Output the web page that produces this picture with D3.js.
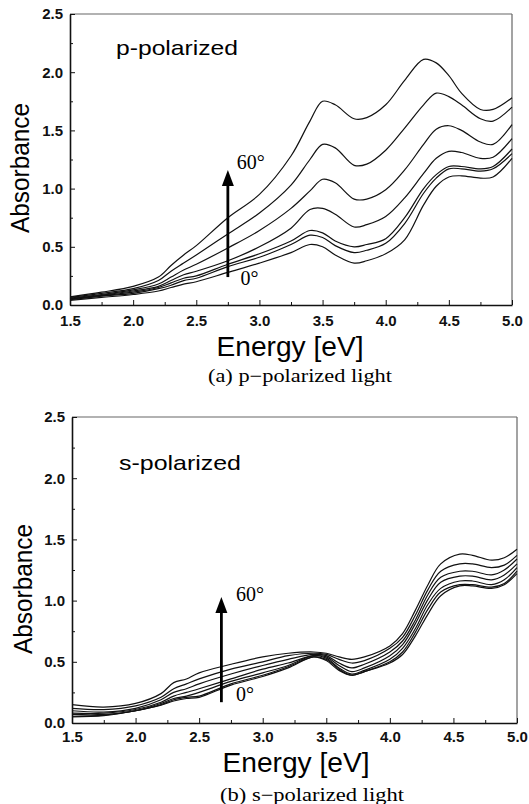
<!DOCTYPE html>
<html>
<head>
<meta charset="utf-8">
<script src="https://cdn.jsdelivr.net/npm/d3@7"></script>
<style>
  body { margin: 0; background: #fff; }
  svg { display: block; }
</style>
</head>
<body>
<svg id="chart" width="529" height="804"></svg>
<script>
// ---- data: p-polarized (top panel) ----
var energyP = [1.5, 1.75, 2.0, 2.2, 2.3, 2.4, 2.5, 2.75, 3.0, 3.25, 3.4, 3.5, 3.6, 3.75, 3.85, 4.0, 4.15, 4.3, 4.4, 4.5, 4.6, 4.75, 4.85, 5.0]
var p0  = [0.04, 0.065, 0.09, 0.12, 0.15, 0.18, 0.20, 0.28, 0.36, 0.45, 0.52, 0.50, 0.43, 0.36, 0.38, 0.44, 0.56, 0.86, 1.02, 1.10, 1.11, 1.09, 1.10, 1.26]
var p10 = [0.045, 0.075, 0.10, 0.14, 0.17, 0.21, 0.23, 0.33, 0.41, 0.52, 0.60, 0.58, 0.51, 0.45, 0.47, 0.53, 0.70, 0.96, 1.09, 1.17, 1.17, 1.15, 1.17, 1.30]
var p20 = [0.05, 0.08, 0.11, 0.15, 0.19, 0.23, 0.25, 0.35, 0.44, 0.55, 0.64, 0.62, 0.55, 0.50, 0.52, 0.57, 0.75, 1.00, 1.12, 1.19, 1.19, 1.17, 1.19, 1.34]
var p30 = [0.055, 0.085, 0.12, 0.16, 0.21, 0.26, 0.29, 0.38, 0.50, 0.66, 0.82, 0.83, 0.78, 0.67, 0.69, 0.76, 0.92, 1.13, 1.26, 1.32, 1.31, 1.26, 1.27, 1.43]
var p40 = [0.06, 0.09, 0.13, 0.18, 0.24, 0.30, 0.35, 0.49, 0.64, 0.83, 0.98, 1.08, 1.05, 0.91, 0.91, 0.99, 1.16, 1.38, 1.51, 1.54, 1.50, 1.40, 1.38, 1.55]
var p50 = [0.065, 0.10, 0.14, 0.21, 0.29, 0.36, 0.43, 0.61, 0.79, 1.03, 1.25, 1.38, 1.35, 1.20, 1.21, 1.33, 1.52, 1.72, 1.82, 1.79, 1.72, 1.60, 1.58, 1.70]
var p60 = [0.07, 0.11, 0.16, 0.24, 0.34, 0.43, 0.51, 0.75, 0.95, 1.28, 1.58, 1.75, 1.72, 1.60, 1.61, 1.72, 1.93, 2.11, 2.08, 1.97, 1.82, 1.68, 1.68, 1.78]

// ---- data: s-polarized (bottom panel) ----
var energyS = [1.5, 1.75, 2.0, 2.2, 2.3, 2.4, 2.5, 2.75, 3.0, 3.2, 3.4, 3.5, 3.6, 3.7, 3.8, 4.0, 4.1, 4.2, 4.3, 4.4, 4.55, 4.65, 4.8, 4.9, 5.0]
var s0  = [0.05, 0.06, 0.10, 0.145, 0.18, 0.20, 0.21, 0.31, 0.38, 0.45, 0.54, 0.51, 0.43, 0.39, 0.42, 0.49, 0.56, 0.71, 0.89, 1.04, 1.12, 1.12, 1.10, 1.13, 1.22]
var s10 = [0.055, 0.065, 0.10, 0.15, 0.19, 0.21, 0.22, 0.32, 0.39, 0.46, 0.54, 0.52, 0.44, 0.39, 0.42, 0.50, 0.58, 0.74, 0.93, 1.07, 1.13, 1.13, 1.11, 1.14, 1.24]
var s20 = [0.07, 0.07, 0.10, 0.16, 0.20, 0.22, 0.25, 0.34, 0.41, 0.47, 0.55, 0.53, 0.45, 0.40, 0.43, 0.52, 0.61, 0.77, 0.97, 1.10, 1.16, 1.16, 1.13, 1.17, 1.27]
var s30 = [0.08, 0.08, 0.11, 0.17, 0.22, 0.25, 0.28, 0.36, 0.44, 0.49, 0.55, 0.54, 0.47, 0.42, 0.45, 0.55, 0.64, 0.81, 1.01, 1.15, 1.20, 1.20, 1.17, 1.21, 1.30]
var s40 = [0.10, 0.09, 0.12, 0.19, 0.25, 0.28, 0.32, 0.40, 0.47, 0.52, 0.56, 0.55, 0.49, 0.45, 0.48, 0.58, 0.67, 0.84, 1.05, 1.19, 1.24, 1.24, 1.21, 1.25, 1.34]
var s50 = [0.12, 0.11, 0.14, 0.21, 0.28, 0.32, 0.36, 0.44, 0.50, 0.55, 0.57, 0.56, 0.52, 0.49, 0.51, 0.61, 0.70, 0.88, 1.09, 1.24, 1.30, 1.30, 1.27, 1.29, 1.37]
var s60 = [0.15, 0.13, 0.16, 0.24, 0.33, 0.36, 0.41, 0.48, 0.54, 0.57, 0.58, 0.57, 0.54, 0.52, 0.54, 0.63, 0.73, 0.92, 1.13, 1.30, 1.38, 1.37, 1.33, 1.35, 1.42]

// ---- ticks / labels ----
var xMajor = [1.5, 2.0, 2.5, 3.0, 3.5, 4.0, 4.5, 5.0]
var xMinor = [1.75, 2.25, 2.75, 3.25, 3.75, 4.25, 4.75]
var yMajor = [0.0, 0.5, 1.0, 1.5, 2.0, 2.5]
var yMinor = [0.25, 0.75, 1.25, 1.75, 2.25]
var angleLow = "0°", angleHigh = "60°"

var svg = d3.select("#chart")

function drawPanel(options) {
    var left = options.left, right = options.right,
        top = options.top, bottom = options.bottom,
        energy = options.energy,
        series = options.series

    var x = d3.scaleLinear().domain([1.5, 5.0]).range([left, right])
    var y = d3.scaleLinear().domain([0, 2.5]).range([bottom, top])

    var g = svg.append("g")

    // frame: left/bottom solid, top/right lighter
    g.append("line").attr("x1", left).attr("x2", right).attr("y1", top).attr("y2", top)
        .attr("stroke", "#666").attr("stroke-width", 1.2)
    g.append("line").attr("x1", right).attr("x2", right).attr("y1", top).attr("y2", bottom)
        .attr("stroke", "#666").attr("stroke-width", 1.2)

    // minor ticks
    g.append("g").attr("transform", "translate(0," + bottom + ")")
        .call(d3.axisBottom(x).tickValues(xMinor).tickSize(-3).tickFormat(""))
        .call(a => a.select(".domain").remove())
    g.append("g").attr("transform", "translate(" + left + ",0)")
        .call(d3.axisLeft(y).tickValues(yMinor).tickSize(-3).tickFormat(""))
        .call(a => a.select(".domain").remove())

    // major ticks with labels
    var xa = g.append("g").attr("transform", "translate(0," + bottom + ")")
        .call(d3.axisBottom(x).tickValues(xMajor).tickSizeInner(-5).tickSizeOuter(0)
            .tickPadding(options.xPad).tickFormat(d3.format(".1f")))
    var ya = g.append("g").attr("transform", "translate(" + left + ",0)")
        .call(d3.axisLeft(y).tickValues(yMajor).tickSizeInner(-5).tickSizeOuter(0)
            .tickPadding(7).tickFormat(d3.format(".1f")))
    ;[xa, ya].forEach(function(a) {
        a.select(".domain").attr("stroke", "#111").attr("stroke-width", 1.6)
        a.selectAll("text")
            .style("font-family", "'Liberation Sans', Arial, sans-serif")
            .style("font-weight", "bold")
            .style("font-size", "15px")
            .attr("fill", "#111")
    })
    g.selectAll(".tick line").attr("stroke", "#111")

    // curves
    var line = d3.line()
        .x(function(d, i) { return x(energy[i]) })
        .y(function(d) { return y(d) })
        .curve(d3.curveCatmullRom.alpha(0.5))

    g.append("g").selectAll("path")
        .data(series)
        .enter().append("path")
        .attr("d", line)
        .attr("fill", "none")
        .attr("stroke", "#111")
        .attr("stroke-width", 1.2)

    // arrow 0 -> 60
    var ax = x(options.arrow.e),
        y0 = y(options.arrow.from),
        y1 = y(options.arrow.to)
    g.append("line").attr("x1", ax).attr("x2", ax).attr("y1", y0).attr("y2", y1 + 14)
        .attr("stroke", "#000").attr("stroke-width", 2.8)
    g.append("path")
        .attr("d", "M" + ax + "," + y1 + "L" + (ax - 6) + "," + (y1 + 16) + "L" + (ax + 6) + "," + (y1 + 16) + "Z")
        .attr("fill", "#000")

    var serif = "'Liberation Serif', 'Times New Roman', serif"
    g.append("text").attr("x", x(options.hiLabel[0])).attr("y", y(options.hiLabel[1]))
        .text(angleHigh).style("font-family", serif).style("font-size", "20px")
    g.append("text").attr("x", x(options.loLabel[0])).attr("y", y(options.loLabel[1]))
        .text(angleLow).style("font-family", serif).style("font-size", "20px")

    // panel label inside plot
    g.append("text").attr("x", options.tag.x).attr("y", options.tag.y)
        .text(options.tag.text)
        .attr("textLength", options.tag.w).attr("lengthAdjust", "spacingAndGlyphs")
        .style("font-family", "'Liberation Sans', Arial, sans-serif")
        .style("font-size", "21px")

    // axis titles
    g.append("text")
        .attr("transform", "translate(" + options.yTitle.x + "," + options.yTitle.y + ") rotate(-90)")
        .attr("text-anchor", "middle")
        .text("Absorbance")
        .attr("textLength", 130).attr("lengthAdjust", "spacingAndGlyphs")
        .style("font-family", "'Liberation Sans', Arial, sans-serif")
        .style("font-size", "25px")
    g.append("text")
        .attr("x", options.xTitle.x).attr("y", options.xTitle.y)
        .attr("text-anchor", "middle")
        .text("Energy [eV]")
        .attr("textLength", 147).attr("lengthAdjust", "spacingAndGlyphs")
        .style("font-family", "'Liberation Sans', Arial, sans-serif")
        .style("font-size", "27px")

    // caption
    g.append("text")
        .attr("x", options.caption.x).attr("y", options.caption.y)
        .attr("text-anchor", "middle")
        .text(options.caption.text)
        .attr("textLength", 184).attr("lengthAdjust", "spacingAndGlyphs")
        .style("font-family", serif)
        .style("font-size", "18px")
}

drawPanel({
    left: 70, right: 512, top: 14, bottom: 305,
    energy: energyP,
    series: [p0, p10, p20, p30, p40, p50, p60],
    xPad: 10,
    arrow: { e: 2.75, from: 0.24, to: 1.16 },
    hiLabel: [2.82, 1.17], loLabel: [2.85, 0.17],
    tag: { text: "p-polarized", x: 116, y: 55, w: 122 },
    yTitle: { x: 29, y: 168 },
    xTitle: { x: 290, y: 356 },
    caption: { text: "(a) p\u2212polarized light", x: 300, y: 382 }
})

drawPanel({
    left: 72, right: 517, top: 417, bottom: 723,
    energy: energyS,
    series: [s0, s10, s20, s30, s40, s50, s60],
    xPad: 8,
    arrow: { e: 2.675, from: 0.17, to: 1.03 },
    hiLabel: [2.79, 1.0], loLabel: [2.79, 0.18],
    tag: { text: "s-polarized", x: 119, y: 470, w: 122 },
    yTitle: { x: 32, y: 589 },
    xTitle: { x: 296, y: 772 },
    caption: { text: "(b) s\u2212polarized light", x: 312, y: 801 }
})
</script>
</body>
</html>
